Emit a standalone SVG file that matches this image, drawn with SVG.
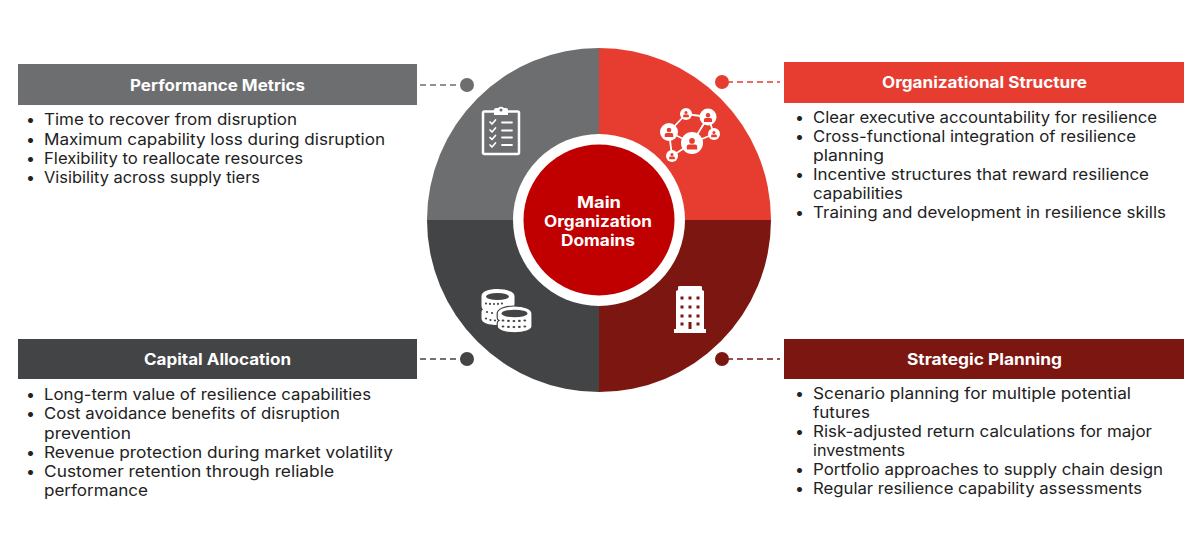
<svg xmlns="http://www.w3.org/2000/svg" xmlns:xlink="http://www.w3.org/1999/xlink" width="1200" height="557" viewBox="0 0 1200 557">
<style>
text{font-family:"Inter","Noto Sans","Liberation Sans",sans-serif}
.h{font-size:15.5px;font-weight:700;fill:#fff}
.b{font-size:16px;font-weight:400;fill:#222}
.c{font-size:15.5px;font-weight:700;fill:#fff}
.d{fill:none;stroke-width:1.3;stroke-dasharray:6 4}
.w{fill:none;stroke:#fff;stroke-linecap:round;stroke-linejoin:round}
</style>
<defs>
<g id="p"><circle cy="-3.6" r="2.8"/><path d="M-5.2 5V2.2Q-5.2 0-3 0H3Q5.2 0 5.2 2.2V5Z"/></g>
<g id="r"><circle cx="0" cy="0" r="1.1" fill="#434446"/><circle cx="4.2" cy="0.4" r="1.1" fill="#434446"/><circle cx="8.4" cy="0.6" r="1.1" fill="#434446"/><circle cx="12.6" cy="0.4" r="1.1" fill="#434446"/><circle cx="16.8" cy="0" r="1.1" fill="#434446"/></g>
</defs>
<rect width="1200" height="557" fill="#fff"/>
<g id="wheel">
<path d="M599 220V48A172 172 0 0 0 427 220Z" fill="#6d6e70"/>
<path d="M599 220V48A172 172 0 0 1 771 220Z" fill="#e63d30"/>
<path d="M599 220V392A172 172 0 0 1 427 220Z" fill="#434446"/>
<path d="M599 220V392A172 172 0 0 0 771 220Z" fill="#7b1610"/>
<circle cx="599" cy="220" r="86" fill="#fff"/>
</g>
<g id="connectors">
<path class="d" stroke="#6d6e70" d="M420 85H462"/>
<path class="d" stroke="#e63d30" d="M727 82H780"/>
<path class="d" stroke="#434446" d="M420 359H462"/>
<path class="d" stroke="#7b1610" d="M727 359H780"/>
<circle cx="467" cy="85" r="7" fill="#6d6e70"/>
<circle cx="722" cy="82" r="7" fill="#e63d30"/>
<circle cx="467" cy="359" r="7" fill="#434446"/>
<circle cx="722" cy="359" r="7" fill="#7b1610"/>
</g>
<g id="center">
<circle cx="599" cy="220" r="75.5" fill="#c00000"/>
<text class="c" x="577" y="207.500" textLength="44" lengthAdjust="spacingAndGlyphs">Main</text>
<text class="c" x="544" y="226.500" textLength="108" lengthAdjust="spacingAndGlyphs">Organization</text>
<text class="c" x="561" y="245.500" textLength="74" lengthAdjust="spacingAndGlyphs">Domains</text>
</g>
<g id="icon-clipboard">
<rect class="w" x="483" y="111.500" width="36" height="42.500" rx="1.500" stroke-width="2.500"/>
<path d="M494 113V109.500Q494 108 496 108H498Q501 105.500 504 108H506Q508 108 508 109.500V113V115H494Z" fill="#fff"/>
<circle cx="501" cy="110" r="1.500" fill="#6d6e70"/>
<path class="w" stroke-width="1.700" d="M490 122l2 2 3.500-4M490 130l2 2 3.500-4M490 137.500l2 2 3.500-4M490 145l2 2 3.500-4"/>
<path class="w" stroke-width="1.800" stroke-linecap="butt" d="M502 122.500H512M502 130.500H512M502 137.500H512M502 145H512"/>
</g>
<g id="icon-network">
<path class="w" stroke-width="1.800" d="M669 132L686 114L708 117L692 143L669 132L672 156L692 143L714 134L708 117"/>
<g fill="#fff"><circle cx="692" cy="143" r="11"/><circle cx="669" cy="132" r="9"/><circle cx="708" cy="117" r="8.500"/><circle cx="686" cy="114" r="6"/><circle cx="714" cy="134" r="6"/><circle cx="672" cy="156" r="6"/></g>
<g fill="#e63d30">
<use xlink:href="#p" href="#p" transform="translate(692 144.500)"/>
<use xlink:href="#p" href="#p" transform="translate(669 133) scale(.82)"/>
<use xlink:href="#p" href="#p" transform="translate(708 118) scale(.78)"/>
<use xlink:href="#p" href="#p" transform="translate(686 114.500) scale(.55)"/>
<use xlink:href="#p" href="#p" transform="translate(714 134.500) scale(.55)"/>
<use xlink:href="#p" href="#p" transform="translate(672 156.500) scale(.55)"/>
</g>
</g>
<g id="icon-coins">
<path fill="#fff" d="M481.500 296C481.500 291.500 489 289 497.500 289S514.500 291.500 514.500 296V304C514.500 306 513 307.500 511 308.500L511 322Q505 325 497.500 325C489 325 481.500 323 481.500 318.500V312Q481.500 310 483 309.500Q481.500 308 481.500 306Z"/>
<ellipse cx="497.500" cy="296.500" rx="11.500" ry="3.600" fill="#434446"/>
<use xlink:href="#r" href="#r" transform="translate(486 303.500) scale(.95)"/>
<circle cx="487" cy="312" r="1.100" fill="#434446"/><circle cx="492" cy="313" r="1.100" fill="#434446"/>
<circle cx="486" cy="318.500" r="1.100" fill="#434446"/><circle cx="490.500" cy="320" r="1.100" fill="#434446"/><circle cx="495" cy="320.500" r="1.100" fill="#434446"/>
<path fill="#fff" stroke="#434446" stroke-width="1.200" d="M497.200 313.500C497.200 309 505 306 514.500 306S532 309 532 313.500V326.500C532 330 524 332.800 514.500 332.800S497.200 330 497.200 326.500V323.500Q497.200 321.500 499 320.500Q497.200 319.500 497.200 317.500Z"/>
<ellipse cx="514.500" cy="313.500" rx="13" ry="3.800" fill="#434446"/>
<use xlink:href="#r" href="#r" transform="translate(503 320.500) scale(1.300 1)"/>
<use xlink:href="#r" href="#r" transform="translate(503 326.500) scale(1.300 1)"/>
</g>
<g id="icon-building">
<path fill="#fff" d="M676 329V291L678 290V287Q678 286 680 286H700Q702 286 702 287V290L704 291V329H706V333H674V329Z"/>
<g fill="#7b1610">
<rect x="680.500" y="296.500" width="3" height="3"/><rect x="688.500" y="296.500" width="3" height="3"/><rect x="696.500" y="296.500" width="3" height="3"/>
<rect x="680.500" y="305.500" width="3" height="3"/><rect x="688.500" y="305.500" width="3" height="3"/><rect x="696.500" y="305.500" width="3" height="3"/>
<rect x="680.500" y="314.500" width="3" height="3"/><rect x="688.500" y="314.500" width="3" height="3"/><rect x="696.500" y="314.500" width="3" height="3"/>
<rect x="680.500" y="322.500" width="3" height="3"/><rect x="696.500" y="322.500" width="3" height="3"/><rect x="688.500" y="322" width="3" height="7"/>
</g>
</g>
<g id="node-performance">
<rect x="18" y="64" width="399" height="41" fill="#6d6e70"/>
<text class="h" x="130" y="90.500" textLength="175" lengthAdjust="spacingAndGlyphs">Performance Metrics</text>
<text class="b" x="26" y="125">•</text><text class="b" x="44" y="125" textLength="253" lengthAdjust="spacingAndGlyphs">Time to recover from disruption</text>
<text class="b" x="26" y="144.500">•</text><text class="b" x="44" y="144.500" textLength="341" lengthAdjust="spacingAndGlyphs">Maximum capability loss during disruption</text>
<text class="b" x="26" y="164">•</text><text class="b" x="44" y="164" textLength="259" lengthAdjust="spacingAndGlyphs">Flexibility to reallocate resources</text>
<text class="b" x="26" y="183">•</text><text class="b" x="44" y="183" textLength="216" lengthAdjust="spacingAndGlyphs">Visibility across supply tiers</text>
</g>
<g id="node-organizational">
<rect x="784" y="62" width="400" height="41" fill="#e63d30"/>
<text class="h" x="882" y="88" textLength="205" lengthAdjust="spacingAndGlyphs">Organizational Structure</text>
<text class="b" x="795" y="123">•</text><text class="b" x="813" y="123" textLength="344" lengthAdjust="spacingAndGlyphs">Clear executive accountability for resilience</text>
<text class="b" x="795" y="142">•</text><text class="b" x="813" y="142" textLength="323" lengthAdjust="spacingAndGlyphs">Cross-functional integration of resilience</text>
<text class="b" x="813" y="161" textLength="71" lengthAdjust="spacingAndGlyphs">planning</text>
<text class="b" x="795" y="180">•</text><text class="b" x="813" y="180" textLength="336" lengthAdjust="spacingAndGlyphs">Incentive structures that reward resilience</text>
<text class="b" x="813" y="199" textLength="90" lengthAdjust="spacingAndGlyphs">capabilities</text>
<text class="b" x="795" y="218">•</text><text class="b" x="813" y="218" textLength="353" lengthAdjust="spacingAndGlyphs">Training and development in resilience skills</text>
</g>
<g id="node-capital">
<rect x="18" y="339" width="399" height="40" fill="#434446"/>
<text class="h" x="144" y="365" textLength="147" lengthAdjust="spacingAndGlyphs">Capital Allocation</text>
<text class="b" x="26" y="400">•</text><text class="b" x="44" y="400" textLength="327" lengthAdjust="spacingAndGlyphs">Long-term value of resilience capabilities</text>
<text class="b" x="26" y="419">•</text><text class="b" x="44" y="419" textLength="296" lengthAdjust="spacingAndGlyphs">Cost avoidance benefits of disruption</text>
<text class="b" x="44" y="438.500" textLength="87" lengthAdjust="spacingAndGlyphs">prevention</text>
<text class="b" x="26" y="458">•</text><text class="b" x="44" y="458" textLength="349" lengthAdjust="spacingAndGlyphs">Revenue protection during market volatility</text>
<text class="b" x="26" y="476.500">•</text><text class="b" x="44" y="476.500" textLength="290" lengthAdjust="spacingAndGlyphs">Customer retention through reliable</text>
<text class="b" x="44" y="495.500" textLength="104" lengthAdjust="spacingAndGlyphs">performance</text>
</g>
<g id="node-strategic">
<rect x="784" y="339" width="400" height="40" fill="#7b1610"/>
<text class="h" x="907" y="365" textLength="155" lengthAdjust="spacingAndGlyphs">Strategic Planning</text>
<text class="b" x="795" y="399">•</text><text class="b" x="813" y="399" textLength="318" lengthAdjust="spacingAndGlyphs">Scenario planning for multiple potential</text>
<text class="b" x="813" y="418" textLength="57" lengthAdjust="spacingAndGlyphs">futures</text>
<text class="b" x="795" y="437">•</text><text class="b" x="813" y="437" textLength="339" lengthAdjust="spacingAndGlyphs">Risk-adjusted return calculations for major</text>
<text class="b" x="813" y="456" textLength="92" lengthAdjust="spacingAndGlyphs">investments</text>
<text class="b" x="795" y="475">•</text><text class="b" x="813" y="475" textLength="350" lengthAdjust="spacingAndGlyphs">Portfolio approaches to supply chain design</text>
<text class="b" x="795" y="494">•</text><text class="b" x="813" y="494" textLength="329" lengthAdjust="spacingAndGlyphs">Regular resilience capability assessments</text>
</g>
</svg>
